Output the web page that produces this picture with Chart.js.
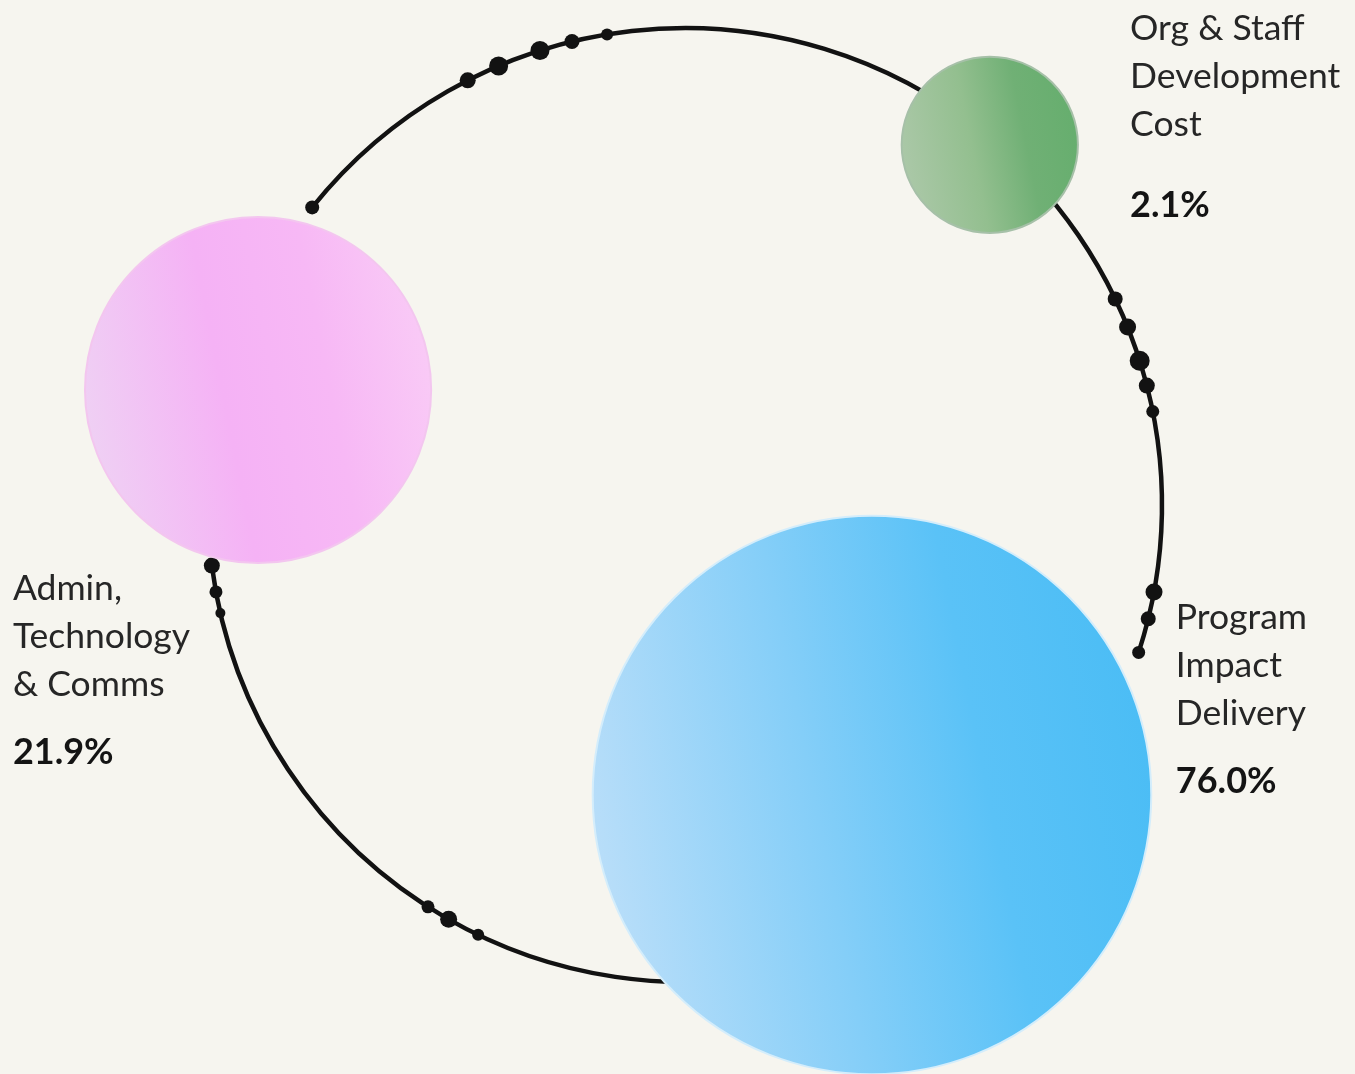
<!DOCTYPE html>
<html>
<head>
<meta charset="utf-8">
<script src="https://cdn.jsdelivr.net/npm/chart.js@4.4.1/dist/chart.umd.min.js"></script>
<style>
  html, body { margin: 0; padding: 0; background: #f6f5ef; }
  #wrap { width: 1355px; height: 1074px; position: relative; }
</style>
</head>
<body>
<div id="wrap"><canvas id="myChart"></canvas></div>
<script>
// cost split
const categories = ['Org & Staff Development Cost', 'Admin, Technology & Comms', 'Program Impact Delivery'];
const labelLines = [['Org & Staff', 'Development', 'Cost'], ['Admin,', 'Technology', '& Comms'], ['Program', 'Impact', 'Delivery']];
const shares = [2.1, 21.9, 76.0];

// layout, in ring radii (ring centre is 0,0)
const bubbleX = [0.639, -0.895, 0.392];
const bubbleY = [0.755, 0.241, -0.608];
const labelX = [0.933, -1.409, 1.029];
const labelY = [0.975, -0.199, -0.260];
const pctGap = [81, 68, 68];

// beads on the ring: degrees clockwise from 3 o'clock, and their radius in px
const beadAngles = [218.6, 242.9, 247.0, 252.3, 256.3, 260.6, 334.4, 338.1, 342.4, 345.5, 348.7, 10.5, 13.8, 18.0, 172.7, 169.5, 166.9, 122.6, 119.7, 115.7];
const beadSizes = [7, 8, 9.5, 9.5, 7.5, 6, 7.5, 8.5, 10, 8, 6.5, 8.5, 7.5, 6.5, 8, 6.5, 5, 6.5, 8.5, 6];
const ringArcs = [[218.6, 378.0], [30, 172.7]];

const fills = [
    ['#abc8a8', '#93bf8f', '#70b075', '#66ae6e'],
    ['#efd0f4', '#f5b2f5', '#f7b8f5', '#f9caf6'],
    ['#b9def9', '#84cef8', '#5ac2f7', '#4bbdf5']
];
const edges = ['#a6c0a8', '#f3c6ef', '#d4edfb'];

function bubbleRadius(v) {
    return 50 + 26.3 * Math.sqrt(v);
}

function bubbleFill(context) {
    const chart = context.chart;
    const i = context.dataIndex;
    if (!chart.chartArea || i === undefined || !chart.scales.x) return fills[0][1];
    const cx = chart.scales.x.getPixelForValue(bubbleX[i]);
    const cy = chart.scales.y.getPixelForValue(bubbleY[i]);
    const r = bubbleRadius(shares[i]);
    const g = chart.ctx.createLinearGradient(cx - r, cy + r * 0.2, cx + r, cy - r * 0.2);
    g.addColorStop(0, fills[i][0]);
    g.addColorStop(0.4, fills[i][1]);
    g.addColorStop(0.7, fills[i][2]);
    g.addColorStop(1, fills[i][3]);
    return g;
}

const ringPlugin = {
    id: 'ring',
    beforeDatasetsDraw(chart) {
        const { ctx, scales: { x, y } } = chart;
        const cx = x.getPixelForValue(0), cy = y.getPixelForValue(0);
        const rx = x.getPixelForValue(1) - cx, ry = cy - y.getPixelForValue(1);
        ctx.save();
        ctx.strokeStyle = '#121212';
        ctx.fillStyle = '#121212';
        ctx.lineWidth = 4.5;
        ctx.lineCap = 'round';
        ringArcs.forEach(([a, b]) => {
            ctx.beginPath();
            ctx.ellipse(cx, cy, rx, ry, 0, a * Math.PI / 180, b * Math.PI / 180);
            ctx.stroke();
        });
        beadAngles.forEach((a, i) => {
            const t = a * Math.PI / 180;
            ctx.beginPath();
            ctx.arc(cx + rx * Math.cos(t), cy + ry * Math.sin(t), beadSizes[i], 0, Math.PI * 2);
            ctx.fill();
        });
        ctx.restore();
    }
};

const labelPlugin = {
    id: 'labels',
    afterDatasetsDraw(chart) {
        const { ctx, scales: { x, y } } = chart;
        ctx.save();
        ctx.textAlign = 'left';
        ctx.textBaseline = 'alphabetic';
        labelLines.forEach((lines, i) => {
            const px = x.getPixelForValue(labelX[i]);
            let py = y.getPixelForValue(labelY[i]);
            ctx.fillStyle = '#262626';
            ctx.font = '35.5px Lato';
            lines.forEach((line, k) => {
                ctx.fillText(line, px, py + k * 48);
            });
            ctx.fillStyle = '#141414';
            ctx.font = 'bold 36px Lato';
            ctx.fillText(shares[i].toFixed(1) + '%', px, py + (lines.length - 1) * 48 + pctGap[i]);
        });
        ctx.restore();
    }
};

const ctx = document.getElementById('myChart').getContext('2d');

new Chart(ctx, {
    type: 'bubble',
    data: {
        labels: categories,
        datasets: [{
            label: 'Share of spend',
            data: shares.map((v, i) => ({ x: bubbleX[i], y: bubbleY[i], r: bubbleRadius(v) })),
            backgroundColor: bubbleFill,
            borderColor: edges,
            borderWidth: 2,
            hoverRadius: 0,
            clip: false
        }]
    },
    options: {
        responsive: true,
        maintainAspectRatio: false,
        animation: false,
        layout: { padding: 0, autoPadding: false },
        plugins: {
            legend: { display: false },
            tooltip: { enabled: false }
        },
        scales: {
            x: { type: 'linear', min: -1.436, max: 1.4046, display: false },
            y: { type: 'linear', min: -1.1929, max: 1.0587, display: false }
        }
    },
    plugins: [ringPlugin, labelPlugin]
});
</script>
</body>
</html>
